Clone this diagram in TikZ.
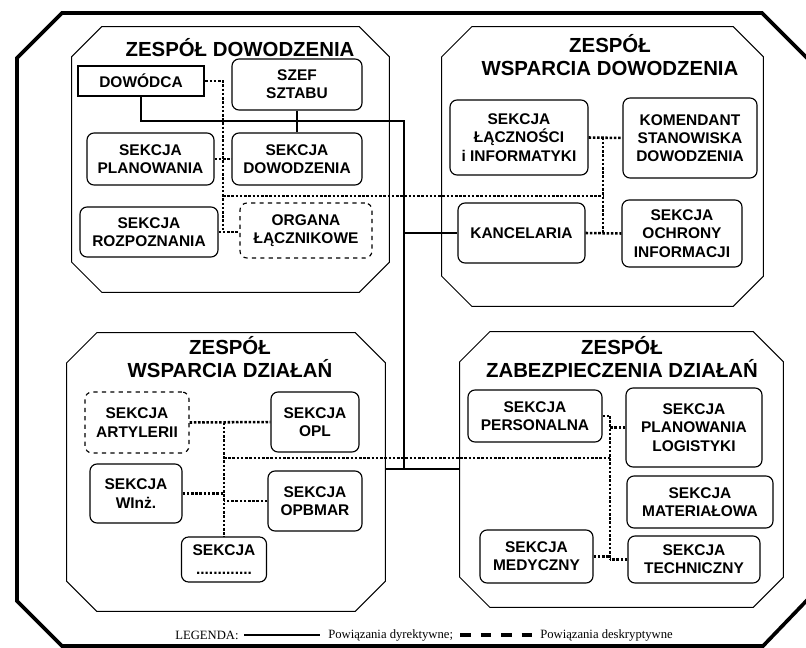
\documentclass[tikz,border=0pt]{standalone}
\usepackage{fontspec}
\setmainfont{Liberation Serif}
\newfontfamily\boxfont{Liberation Sans}
\usepackage{tikz}

\tikzset{
  ramka/.style={line width=2.6pt},
  zespol/.style 2 args={rectangle, inner sep=0pt,
    minimum width=#1*0.025cm, minimum height=#2*0.025cm},
  fazka/.style={line width=0.7pt},
  tytul/.style={align=center, inner sep=0pt, font=\boxfont\bfseries\fontsize{14.5}{16.5}\selectfont},
  sekcja/.style 2 args={draw, rounded corners=5pt, line width=0.8pt, align=center, inner sep=1pt,
    minimum width=#1*0.025cm, minimum height=#2*0.025cm, font=\boxfont\bfseries\fontsize{11}{13}\selectfont},
  dyr/.style={line width=1.3pt},
  desk/.style={line width=1.8pt, dash pattern=on 1.8pt off 1.2pt},
  legdash/.style={line width=2.2pt, dash pattern=on 7.5pt off 7pt},
  legenda/.style={anchor=west, inner sep=0pt, font=\fontsize{9}{10}\selectfont}
}

\begin{document}
\begin{tikzpicture}[x=0.025cm,y=-0.025cm]
        \useasboundingbox (0,0) rectangle (806,648);
        \draw[ramka] (62,13) -- (762,13) -- (812,63) -- (812,595) -- (763,646) -- (62,646) -- (17,601) -- (17,58) -- cycle;

        \node[zespol={317}{265}] (P1) at (230.5,159.5) {};
        \node[zespol={321}{279}] (P2) at (602.5,166.5) {};
        \node[zespol={318}{278}] (P3) at (226,472) {};
        \node[zespol={323}{275}] (P4) at (621.5,469.5) {};
        \foreach \p in {P1,P2,P3,P4}
          \draw[fazka] ([xshift=.75cm]\p.north west) -- ([xshift=-.75cm]\p.north east)
            -- ([yshift=-.75cm]\p.north east) -- ([yshift=.75cm]\p.south east)
            -- ([xshift=-.75cm]\p.south east) -- ([xshift=.75cm]\p.south west)
            -- ([yshift=.75cm]\p.south west) -- ([yshift=-.75cm]\p.north west) -- cycle;

        \node[tytul] (T1) at (240,48) {ZESPÓŁ DOWODZENIA};
        \node[tytul] (T2) at (610,55) {ZESPÓŁ\\WSPARCIA DOWODZENIA};
        \node[tytul] (T3) at (230,357) {ZESPÓŁ\\WSPARCIA DZIAŁAŃ};
        \node[tytul] (T4) at (622,357) {ZESPÓŁ\\ZABEZPIECZENIA DZIAŁAŃ};

        \node[sekcja={126}{30}, line width=2pt, sharp corners] (DOW) at (141,81) {DOWÓDCA};
        \node[sekcja={130}{51}] (SZEF) at (297,84.5) {SZEF\\SZTABU};
        \node[sekcja={127}{52}] (SPLAN) at (150.5,159) {SEKCJA\\PLANOWANIA};
        \node[sekcja={130}{52}] (SDOW) at (297,159) {SEKCJA\\DOWODZENIA};
        \node[sekcja={138}{50}] (SROZ) at (149,232) {SEKCJA\\ROZPOZNANIA};
        \node[sekcja={132}{55}, dashed] (ORG) at (306,230.5) {ORGANA\\ŁĄCZNIKOWE};

        \node[sekcja={138}{75}] (SLACZ) at (519,137.5) {SEKCJA\\ŁĄCZNOŚCI\\i INFORMATYKI};
        \node[sekcja={134}{80}] (KOM) at (690,138) {KOMENDANT\\STANOWISKA\\DOWODZENIA};
        \node[sekcja={127}{60}] (KANC) at (521.5,233) {KANCELARIA};
        \node[sekcja={120}{67}] (SOCH) at (682,233.5) {SEKCJA\\OCHRONY\\INFORMACJI};

        \node[sekcja={104}{61}, dashed] (SART) at (137,422.5) {SEKCJA\\ARTYLERII};
        \node[sekcja={88}{60}] (SOPL) at (315,422) {SEKCJA\\OPL};
        \node[sekcja={92}{59}] (SWINZ) at (136,493.5) {SEKCJA\\WInż.};
        \node[sekcja={94}{60}] (SOPB) at (315,501) {SEKCJA\\OPBMAR};
        \node[sekcja={85}{45}] (SDOTS) at (224,559.5) {SEKCJA\\.............};

        \node[sekcja={134}{52}] (SPER) at (535,416) {SEKCJA\\PERSONALNA};
        \node[sekcja={136}{79}] (SPLOG) at (694,427.5) {SEKCJA\\PLANOWANIA\\LOGISTYKI};
        \node[sekcja={146}{52}] (SMAT) at (700,502) {SEKCJA\\MATERIAŁOWA};
        \node[sekcja={113}{53}] (SMED) at (536.5,556.5) {SEKCJA\\MEDYCZNY};
        \node[sekcja={132}{47}] (STECH) at (694,559.5) {SEKCJA\\TECHNICZNY};

        \coordinate (G1) at (404,121);
        \coordinate (G2) at (404,469);
        \draw[dyr] (DOW.south) |- (G1) -- (G2);
        \draw[dyr] (SZEF.south) -- (SDOW.north);
        \draw[dyr] (G1 |- KANC.west) -- (KANC.west);
        \draw[dyr] (P3.east |- G2) -- (P4.west |- G2);

        \coordinate (D1) at (223,230);
        \coordinate (D2) at (603,196);
        \draw[desk] (DOW.east) -| (D1);
        \draw[desk] (SPLAN.east) -- (SDOW.west);
        \draw[desk] (SROZ.east) -- (SROZ.east -| ORG.west);
        \draw[desk] (D1 |- D2) -- (D2);
        \draw[desk] (SLACZ.east -| D2) -- (KANC.east -| D2);
        \draw[desk] (SLACZ.east) -- (KOM.west);
        \draw[desk] (KANC.east) -- (SOCH.west);

        \coordinate (D3) at (224,458);
        \coordinate (D4) at (610,458);
        \draw[desk] (SART.east -| D3) -- (SDOTS.north);
        \draw[desk] (SART.east) -- (SOPL.west);
        \draw[desk] (SWINZ.east) -- (SWINZ.east -| D3);
        \draw[desk] (SOPB.west) -- (SOPB.west -| D3);
        \draw[desk] (D3) -- (D4);
        \draw[desk] (SPER.east -| D4) -- (STECH.west -| D4);
        \draw[desk] (SPER.east) -- (SPER.east -| D4);
        \draw[desk] (SPLOG.west) -- (SPLOG.west -| D4);
        \draw[desk] (SMED.east) -- (SMED.east -| D4);
        \draw[desk] (STECH.west) -- (STECH.west -| D4);

        \node[legenda] (LEG) at (175,635) {LEGENDA:};
        \node[legenda] (LDYR) at (328,635) {Powiązania dyrektywne;};
        \node[legenda] (LDESK) at (540,635) {Powiązania deskryptywne};
        \draw[dyr] ([xshift=4pt]LEG.east) -- ([xshift=-6pt]LDYR.west);
        \draw[legdash] ([xshift=5pt]LDYR.east) -- ([xshift=-6pt]LDESK.west);
      \end{tikzpicture}
\end{document}
